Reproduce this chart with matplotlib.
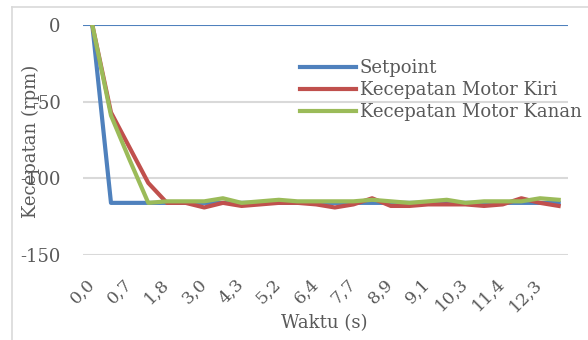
import numpy as np
import matplotlib
matplotlib.use("Agg")
import matplotlib.pyplot as plt
from matplotlib.lines import Line2D
from matplotlib.transforms import ScaledTranslation

plt.rcParams['font.family'] = 'DejaVu Serif'
plt.rcParams['axes.unicode_minus'] = False

# waktu (s) per sampel; label hanya ditampilkan tiap 2 sampel
waktu = ["0,0", "0,3", "0,7", "1,2", "1,8", "2,4", "3,0", "3,7", "4,3", "4,7",
         "5,2", "5,8", "6,4", "7,1", "7,7", "8,3", "8,9", "9,0", "9,1", "9,7",
         "10,3", "10,8", "11,4", "11,9", "12,3", "12,8"]

setpoint = [0] + [-116] * 25
motor_kiri = [0, -57, -80, -103, -116, -116, -119, -116, -118, -117,
              -116, -116, -117, -119, -117, -113, -118, -118, -117, -117,
              -117, -118, -117, -113, -116, -118]
motor_kanan = [0, -59, -88, -116, -115, -115, -115, -113, -116, -115,
               -114, -115, -115, -115, -115, -114, -115, -116, -115, -114,
               -116, -115, -115, -115, -113, -114]

yticks = [0, -50, -100, -150]

W, H = 588, 340
fig = plt.figure(figsize=(W / 100, H / 100), dpi=100)
ax = fig.add_axes([83 / W, 1 - 255 / H, (568 - 83) / W, (255 - 25) / H])

x = np.arange(len(waktu))
ax.plot(x, setpoint, color='#4F81BD', lw=3, label='Setpoint', solid_joinstyle='round', zorder=3)
ax.plot(x, motor_kiri, color='#C0504D', lw=3, label='Kecepatan Motor Kiri', solid_joinstyle='round', zorder=4)
ax.plot(x, motor_kanan, color='#9BBB59', lw=3, label='Kecepatan Motor Kanan', solid_joinstyle='round', zorder=5)

ax.set_xlim(-0.5, len(waktu) - 0.5)
ax.set_ylim(-150, 0)
ax.set_yticks(yticks)
ax.set_yticklabels([str(v) for v in yticks], fontsize=13, color='#595959')
for v in yticks[1:]:
    ax.axhline(v, color='#D9D9D9', lw=1.5, zorder=1)
ax.axhline(0, color='#4F81BD', lw=1.5, zorder=2)

ax.set_xticks(x[::2])
ax.set_xticklabels(waktu[::2], fontsize=12.5, color='#595959', rotation=45,
                   ha='right', va='center', rotation_mode='anchor')
off = ScaledTranslation(5 / 100, 0, fig.dpi_scale_trans)
for lab in ax.get_xticklabels():
    lab.set_transform(lab.get_transform() + off)

ax.tick_params(axis='x', length=0, pad=19)
ax.tick_params(axis='y', length=0, pad=16)
for s in ax.spines.values():
    s.set_visible(False)

fig.text(31 / W, 1 - 141 / H, 'Kecepatan (rpm)', rotation=90, ha='center', va='center',
         fontsize=13, color='#595959')
fig.text(324 / W, 1 - 323 / H, 'Waktu (s)', ha='center', va='center',
         fontsize=13, color='#595959')

ax.legend(loc='upper left', bbox_to_anchor=(300 / W, 1 - 59 / H), bbox_transform=fig.transFigure,
          frameon=False, fontsize=13, handlelength=3.1, handletextpad=0.2,
          borderpad=0, borderaxespad=0, labelspacing=0.22, labelcolor='#595959')

# bingkai grafik
fig.add_artist(Line2D([12 / W, 12 / W], [0, 1 - 7 / H], transform=fig.transFigure, color='#D9D9D9', lw=1.2))
fig.add_artist(Line2D([12 / W, 1], [1 - 7 / H, 1 - 7 / H], transform=fig.transFigure, color='#D9D9D9', lw=1.2))

fig.savefig("out.png", dpi=100)
